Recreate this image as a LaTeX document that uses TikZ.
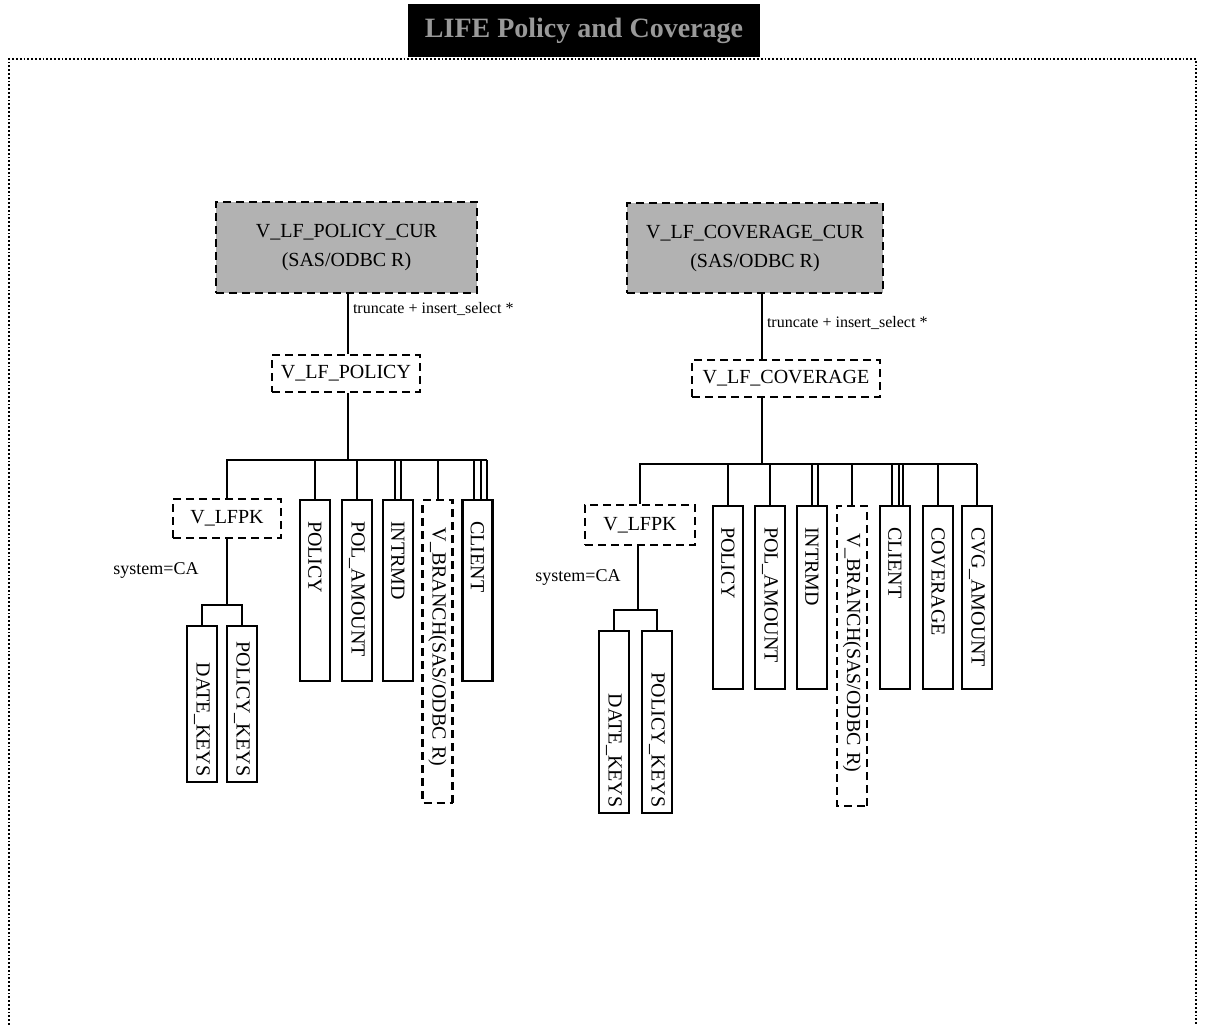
\documentclass[tikz,border=0pt]{standalone}
\usepackage{fontspec}
\setmainfont{Liberation Serif}
\usetikzlibrary{positioning}

\tikzset{
  link/.style={line width=1pt},
  frame/.style={densely dotted, line width=0.9pt},
  curbox/.style={draw, dash pattern=on 4pt off 2.5pt, line width=1.3pt, fill=black!30, align=center, inner sep=0pt, font=\fontsize{10}{14.5}\selectfont},
  viewbox/.style={draw, dash pattern=on 4pt off 2.5pt, line width=1.2pt, inner sep=0pt, font=\fontsize{10}{12}\selectfont},
  colbox/.style={draw, line width=1.2pt, rotate=-90, anchor=west, minimum height=15pt, inner xsep=10.5pt, inner ysep=0pt, align=left, text width=#1, font=\fontsize{10}{12}\selectfont},
  keybox/.style={colbox=#1, inner xsep=3pt, align=right},
  dashcol/.style={colbox=#1, inner xsep=13.75pt, dash pattern=on 4pt off 2.5pt},
  anno/.style={font=\fontsize{8}{9}\selectfont, inner sep=2pt}
}

\begin{document}
\begin{tikzpicture}[x=0.5pt, y=-0.5pt]
    \useasboundingbox (0,0) rectangle (1207,1025);

    % title bar and page frame
    \node[fill=black, text=black!40, minimum width=176pt, minimum height=26.5pt, inner sep=0pt, font=\fontsize{14}{16}\selectfont\bfseries] (title) at (584,30.5) {LIFE Policy and Coverage};
    \draw[frame] (9,1040) |- (1196,59) -- (1196,1040);

    % ---- policy side ----
    \node[curbox, minimum width=130.5pt, minimum height=45.5pt] (lcur) at (346.5,247.5) {V\_LF\_POLICY\_CUR\\(SAS/ODBC R)};
    \node[viewbox, minimum width=74pt, minimum height=18.5pt] (lview) at (346,373.5) {V\_LF\_POLICY};
    \coordinate (ltrunk) at (348,460);
    \draw[link] (lcur.south -| ltrunk) -- node[anno, right, pos=0.25] {truncate + insert\_select *} (lview.north -| ltrunk);
    \draw[link] (lview.south -| ltrunk) -- (ltrunk);

    \node[viewbox, minimum width=54pt, minimum height=19.5pt] (lpk) at (227,518.5) {V\_LFPK};
    \node[colbox=69.5pt] (lpolicy) at (315,499) {POLICY};
    \node[colbox=69.5pt] (lpolamt) at (357,499) {POL\_AMOUNT};
    \node[colbox=69.5pt] (lintr) at (398,499) {INTRMD};
    \node[dashcol=124pt] (lbranch) at (437.5,499) {V\_BRANCH(SAS/ODBC R)};
    \node[colbox=69.5pt] (lclient) at (477.5,499) {CLIENT};

    \foreach \n in {lpolicy,lpolamt,lbranch}
        \draw[link] (\n.west |- ltrunk) -- (\n.west);
    \draw[link, double, double distance=2pt] (lintr.west |- ltrunk) -- (lintr.west);
    \foreach \dx in {-2pt,1.5pt,4.5pt}
        \draw[link] ([xshift=\dx]lclient.west |- ltrunk) -- ([xshift=\dx]lclient.west);
    \draw[link] (lpk.north) |- ([xshift=4.5pt]lclient.west |- ltrunk);

    % keys under V_LFPK
    \node[anno, anchor=east, font=\fontsize{9}{10}\selectfont] (lsys) at (203,570) {system=CA};
    \coordinate (lkj) at (227,605);
    \node[keybox=72pt] (ldate) at (202,625) {DATE\_KEYS};
    \node[keybox=72pt] (lpkeys) at (242,625) {POLICY\_KEYS};
    \draw[link] (lpk.south) -- (lkj);
    \draw[link] (ldate.west) |- (lkj) -| (lpkeys.west);

    % ---- coverage side ----
    \node[curbox, minimum width=128pt, minimum height=45pt] (rcur) at (755,248) {V\_LF\_COVERAGE\_CUR\\(SAS/ODBC R)};
    \node[viewbox, minimum width=94pt, minimum height=18.5pt] (rview) at (786,378.5) {V\_LF\_COVERAGE};
    \coordinate (rtrunk) at (762,464);
    \draw[link] (rcur.south -| rtrunk) -- node[anno, right, pos=0.45] {truncate + insert\_select *} (rview.north -| rtrunk);
    \draw[link] (rview.south -| rtrunk) -- (rtrunk);

    \node[viewbox, minimum width=55pt, minimum height=20pt] (rpk) at (640,525) {V\_LFPK};
    \node[colbox=70.5pt] (rpolicy) at (728,505) {POLICY};
    \node[colbox=70.5pt] (rpolamt) at (770,505) {POL\_AMOUNT};
    \node[colbox=70.5pt] (rintr) at (812,505) {INTRMD};
    \node[dashcol=122.5pt] (rbranch) at (852,505) {V\_BRANCH(SAS/ODBC R)};
    \node[colbox=70.5pt] (rclient) at (895,505) {CLIENT};
    \node[colbox=70.5pt] (rcovg) at (938,505) {COVERAGE};
    \node[colbox=70.5pt] (rcvg) at (977,505) {CVG\_AMOUNT};

    \foreach \n in {rpolicy,rpolamt,rbranch,rcovg,rcvg}
        \draw[link] (\n.west |- rtrunk) -- (\n.west);
    \draw[link, double, double distance=2pt] ([xshift=1.5pt]rintr.west |- rtrunk) -- ([xshift=1.5pt]rintr.west);
    \foreach \dx in {-1.5pt,2pt,4pt}
        \draw[link] ([xshift=\dx]rclient.west |- rtrunk) -- ([xshift=\dx]rclient.west);
    \draw[link] (rpk.north) |- (rcvg.west |- rtrunk);

    % keys under V_LFPK
    \node[anno, anchor=east, font=\fontsize{9}{10}\selectfont] (rsys) at (625,577) {system=CA};
    \coordinate (rkj) at (638,610);
    \node[keybox=85pt] (rdate) at (614,630) {DATE\_KEYS};
    \node[keybox=85pt] (rpkeys) at (657,630) {POLICY\_KEYS};
    \draw[link] (rpk.south -| rkj) -- (rkj);
    \draw[link] (rdate.west) |- (rkj) -| (rpkeys.west);
\end{tikzpicture}
\end{document}
